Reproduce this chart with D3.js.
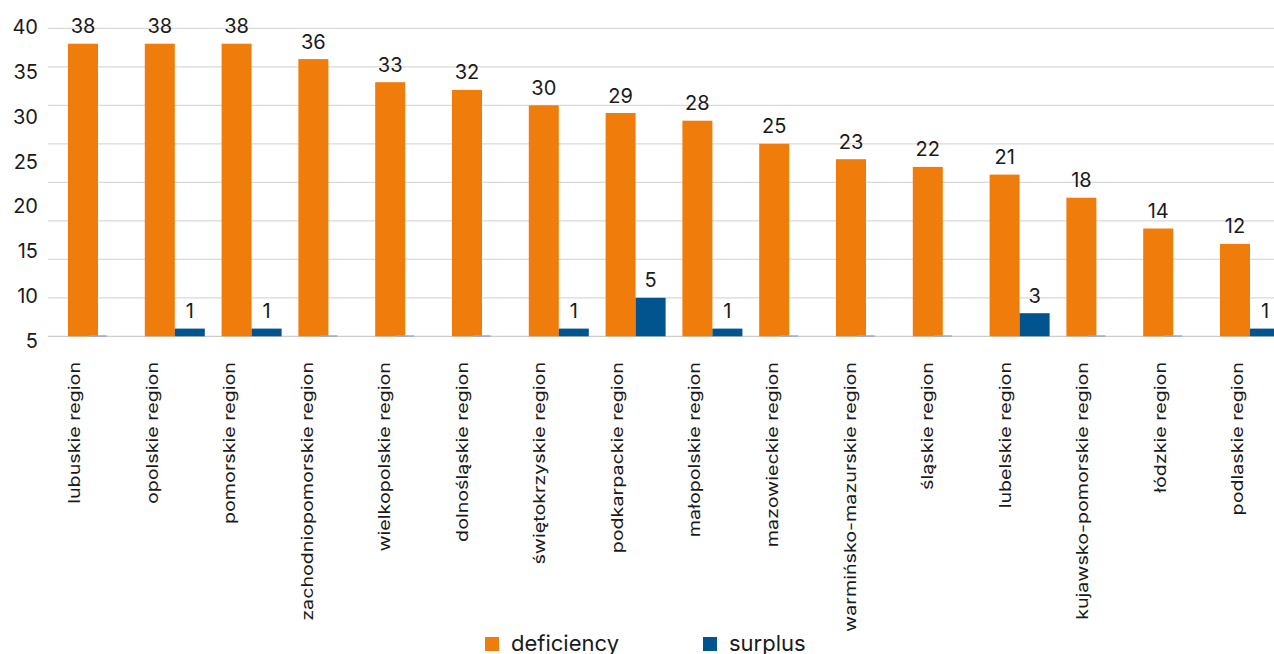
<!DOCTYPE html>
<html>
<head>
<meta charset="utf-8">
<script src="https://cdn.jsdelivr.net/npm/d3@7/dist/d3.min.js"></script>
<style>
  html, body { margin: 0; padding: 0; background: #ffffff; overflow: hidden; }
  svg { display: block; font-family: "Inter", "Roboto", sans-serif; }
</style>
</head>
<body>
<svg id="chart" width="1274" height="654"></svg>
<script>
// Regions, ordered by deficiency
const categories = [
  "lubuskie region", "opolskie region", "pomorskie region", "zachodniopomorskie region",
  "wielkopolskie region", "dolnośląskie region", "świętokrzyskie region", "podkarpackie region",
  "małopolskie region", "mazowieckie region", "warmińsko-mazurskie region", "śląskie region",
  "lubelskie region", "kujawsko-pomorskie region", "łódzkie region", "podlaskie region"
];
const deficiency = [38, 38, 38, 36, 33, 32, 30, 29, 28, 25, 23, 22, 21, 18, 14, 12];
const surplus    = [0, 1, 1, 0, 0, 0, 1, 5, 1, 0, 0, 0, 3, 0, 0, 1];
const seriesNames = ["deficiency", "surplus"];
const gridValues = [0, 5, 10, 15, 20, 25, 30, 35, 40];
const tickLabels = ["40", "35", "30", "25", "20", "15", "10", "5"];

const colors = { deficiency: "#f07d0b", surplus: "#02548f" };
const textColor = "#1a1a1a";

const svg = d3.select("#chart");

const y = d3.scaleLinear().domain([0, 40]).range([336.3, 28.3]);

const x0 = d3.scaleBand()
  .domain(categories)
  .range([59.6, 1288.4])
  .paddingInner(0.21875)
  .paddingOuter(0.109375);

const x1 = d3.scaleBand()
  .domain(seriesNames)
  .range([0, x0.bandwidth()]);

// baselines of the rotated category labels
const xLabel = d3.scalePoint()
  .domain(categories)
  .range([80, 1243.4]);

// horizontal grid
svg.append("g")
  .selectAll("line")
  .data(gridValues)
  .join("line")
  .attr("x1", 48)
  .attr("x2", 1274)
  .attr("y1", d => y(d))
  .attr("y2", d => y(d))
  .attr("stroke", d => d === 0 ? "#cccccc" : "#d9d9d9")
  .attr("stroke-width", 1.3);

// value-axis labels, spread evenly along the plot height
const yLabels = d3.scalePoint()
  .domain(tickLabels)
  .range([y(40) - 2, y(0) + 4]);

const yAxis = svg.append("g")
  .attr("transform", "translate(38,0)")
  .call(d3.axisLeft(yLabels).tickSize(0).tickPadding(0));
yAxis.select(".domain").remove();
yAxis.selectAll("text")
  .attr("font-family", "Inter, Roboto, sans-serif")
  .attr("font-size", 20)
  .attr("fill", textColor)
  .attr("dy", "0.36em");

// rows per region
const rows = categories.map((c, i) => ({
  category: c,
  values: [
    { key: "deficiency", value: deficiency[i] },
    { key: "surplus", value: surplus[i] }
  ]
}));

const groups = svg.append("g")
  .selectAll("g")
  .data(rows)
  .join("g")
  .attr("transform", d => `translate(${x0(d.category)},0)`);

// bars with a value
groups.selectAll("rect.bar")
  .data(d => d.values.filter(v => v.value > 0))
  .join("rect")
  .attr("class", "bar")
  .attr("x", d => x1(d.key))
  .attr("width", x1.bandwidth())
  .attr("y", d => y(d.value))
  .attr("height", d => y(0) - y(d.value))
  .attr("fill", d => colors[d.key]);

// zero surplus drawn as a faint sliver on the baseline
groups.selectAll("rect.zero")
  .data(d => d.values.filter(v => v.key === "surplus" && v.value === 0))
  .join("rect")
  .attr("class", "zero")
  .attr("x", d => x1(d.key) - 9)
  .attr("width", 18)
  .attr("y", y(0) - 1)
  .attr("height", 1.5)
  .attr("fill", "#8fb0cf");

groups.selectAll("text.value")
  .data(d => d.values.filter(v => v.value > 0))
  .join("text")
  .attr("class", "value")
  .attr("x", d => x1(d.key) + x1.bandwidth() / 2)
  .attr("y", d => y(d.value) - 10.5)
  .attr("text-anchor", "middle")
  .attr("font-size", 20)
  .attr("fill", textColor)
  .text(d => d.value);

// rotated category labels
svg.append("g")
  .selectAll("text")
  .data(categories)
  .join("text")
  .attr("transform", d => `translate(${xLabel(d)},362) rotate(-90) scale(1.23,1)`)
  .attr("text-anchor", "end")
  .attr("font-size", 16)
  .attr("fill", textColor)
  .text(d => d);

// legend
const legendX = [485, 703];
const legend = svg.append("g")
  .selectAll("g")
  .data(seriesNames)
  .join("g")
  .attr("transform", (d, i) => `translate(${legendX[i]},637)`);
legend.append("rect")
  .attr("width", 14)
  .attr("height", 14)
  .attr("fill", d => colors[d]);
legend.append("text")
  .attr("x", 26)
  .attr("y", 14)
  .attr("font-size", 22)
  .attr("fill", textColor)
  .text(d => d);
</script>
</body>
</html>
